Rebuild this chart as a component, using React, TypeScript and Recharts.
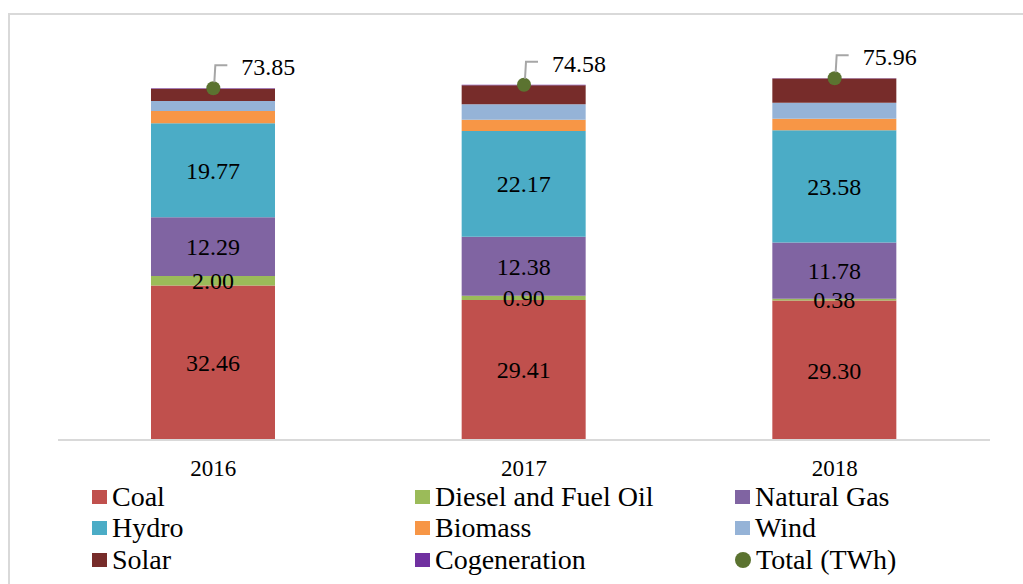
import React from "react";
import { ComposedChart, Bar, Line, XAxis, YAxis, LabelList } from "recharts";

const years = ["2016", "2017", "2018"];
const coal = [32.46, 29.41, 29.3];
const diesel = [2.0, 0.9, 0.38];
const naturalGas = [12.29, 12.38, 11.78];
const hydro = [19.77, 22.17, 23.58];
const biomass = [2.55, 2.4, 2.39];
const wind = [2.1, 3.25, 3.36];
const solar = [2.6, 4.0, 5.1];
const cogeneration = [0.08, 0.07, 0.07];
const totals = [73.85, 74.58, 75.96];

const FONT = '"Liberation Serif", "Times New Roman", serif';

const series = [
  { key: "coal", name: "Coal", color: "#c0504d", label: true },
  { key: "diesel", name: "Diesel and Fuel Oil", color: "#9bbb59", label: true },
  { key: "naturalGas", name: "Natural Gas", color: "#8064a2", label: true },
  { key: "hydro", name: "Hydro", color: "#4bacc6", label: true },
  { key: "biomass", name: "Biomass", color: "#f79646", label: false },
  { key: "wind", name: "Wind", color: "#95b3d7", label: false },
  { key: "solar", name: "Solar", color: "#772c2a", label: false },
  { key: "cogeneration", name: "Cogeneration", color: "#7030a0", label: false },
];

const TOTAL_COLOR = "#5b7330";

const data = years.map((year, i) => ({
  year,
  coal: coal[i],
  diesel: diesel[i],
  naturalGas: naturalGas[i],
  hydro: hydro[i],
  biomass: biomass[i],
  wind: wind[i],
  solar: solar[i],
  cogeneration: cogeneration[i],
  total: totals[i],
}));

// legend: three columns, filled row by row
const legendItems = [
  ...series.map((s) => ({ name: s.name, color: s.color, circle: false })),
  { name: "Total (TWh)", color: TOTAL_COLOR, circle: true },
];
const colX = [92, 415, 735];
const rowY = [481, 512.5, 544];

const renderTotalLabel = (props: any) => {
  const { x, y, value } = props;
  return (
    <g>
      <path
        d={`M${x + 1},${y - 6} L${x + 2},${y - 23} L${x + 14},${y - 23}`}
        stroke="#a6a6a6"
        strokeWidth={2}
        fill="none"
      />
      <text x={x + 28} y={y - 13} fontSize={24} fontFamily={FONT} fill="#000">
        {Number(value).toFixed(2)}
      </text>
    </g>
  );
};

export default function App() {
  return (
    <div style={{ position: "absolute", left: 0, top: 0, width: 1023, height: 584, background: "#fff", overflow: "hidden" }}>
      <div
        style={{
          position: "absolute",
          left: 8,
          top: 13,
          width: 1030,
          height: 600,
          border: "2px solid #d9d9d9",
          boxSizing: "border-box",
        }}
      />
      <div style={{ position: "absolute", left: 0, top: 0 }}>
        <ComposedChart
          width={1023}
          height={584}
          data={data}
          margin={{ top: 59, right: 33, left: 58, bottom: 114 }}
          barSize={124}
        >
          <XAxis
            dataKey="year"
            height={30}
            tickLine={false}
            tickSize={6}
            tickMargin={14}
            axisLine={{ stroke: "#d9d9d9", strokeWidth: 2 }}
            tick={{ fontSize: 23, fontFamily: FONT, fill: "#000" }}
          />
          <YAxis hide domain={[0, 80]} />
          {series.map((s) => (
            <Bar key={s.key} dataKey={s.key} name={s.name} stackId="a" fill={s.color} isAnimationActive={false}>
              {s.label && (
                <LabelList
                  dataKey={s.key}
                  position="center"
                  formatter={(v: any) => Number(v).toFixed(2)}
                  style={{ fontSize: 24, fontFamily: FONT, fill: "#000" }}
                />
              )}
            </Bar>
          ))}
          <Line
            dataKey="total"
            name="Total (TWh)"
            stroke="none"
            isAnimationActive={false}
            dot={{ r: 7, fill: TOTAL_COLOR, stroke: "none" }}
            activeDot={false}
            label={renderTotalLabel}
          />
        </ComposedChart>
      </div>
      {legendItems.map((item, k) => {
        const col = k % 3;
        const row = Math.floor(k / 3);
        return (
          <div
            key={item.name}
            style={{
              position: "absolute",
              left: colX[col],
              top: rowY[row],
              height: 31,
              display: "flex",
              alignItems: "center",
              fontFamily: FONT,
              fontSize: 28,
              lineHeight: 1,
              color: "#000",
              whiteSpace: "nowrap",
            }}
          >
            <span
              style={{
                display: "inline-block",
                width: item.circle ? 16 : 15,
                height: item.circle ? 16 : 14,
                borderRadius: item.circle ? "50%" : 0,
                background: item.color,
                marginRight: 5,
              }}
            />
            {item.name}
          </div>
        );
      })}
    </div>
  );
}
